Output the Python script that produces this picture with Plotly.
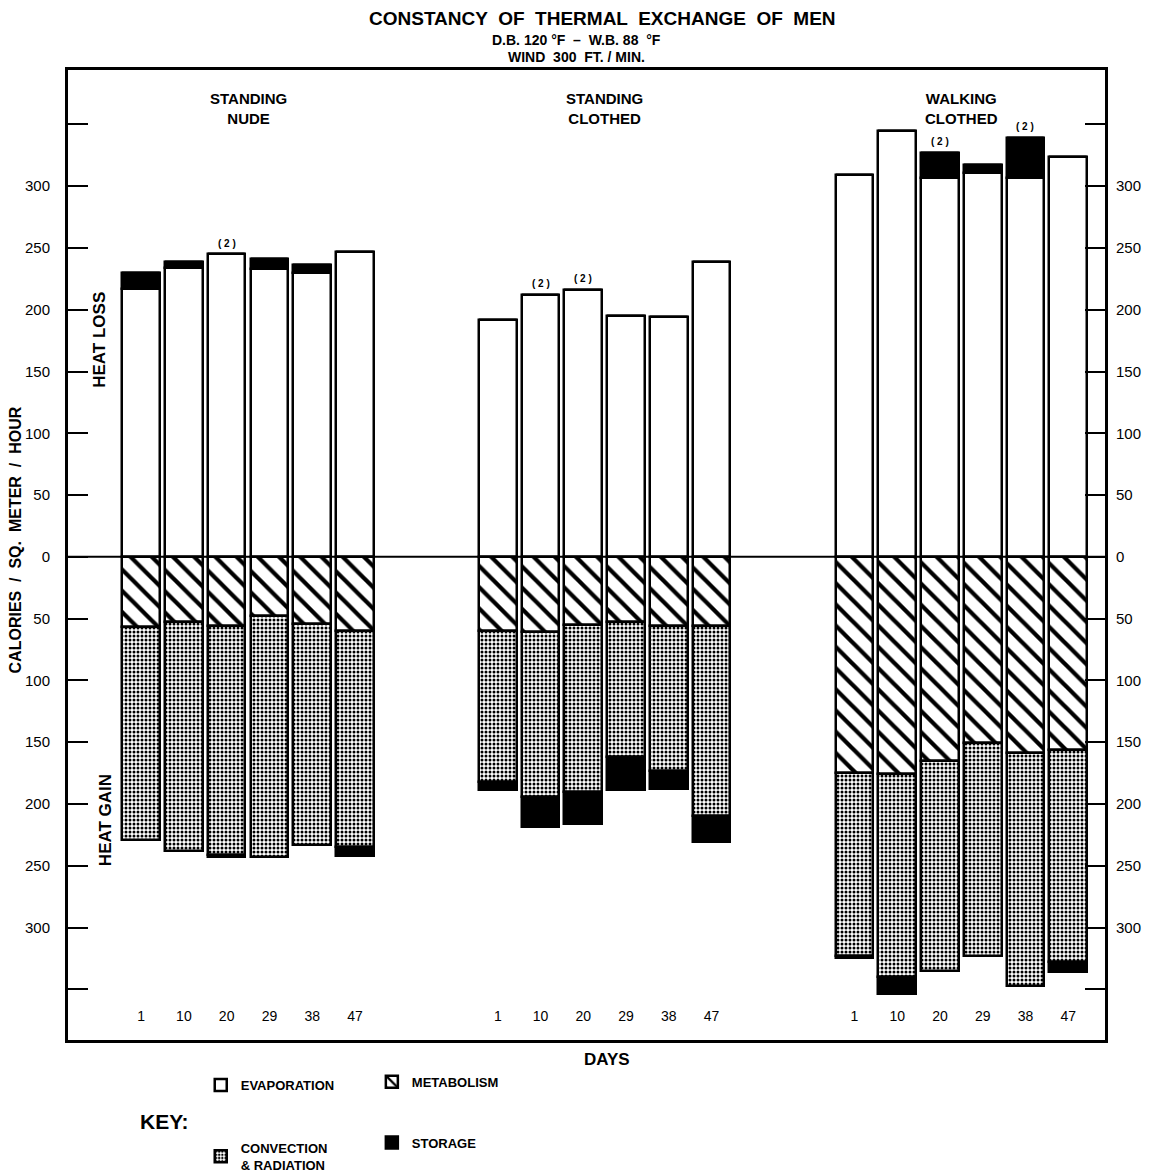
import plotly.graph_objects as go

# ---------------- data ----------------
groups = ["STANDING<br>NUDE", "STANDING<br>CLOTHED", "WALKING<br>CLOTHED"]
days = [1, 10, 20, 29, 38, 47]

# heat loss side (positive)
evaporation = [217, 234, 245, 233, 230, 247,
               192, 212, 216, 195, 194, 239,
               309, 345, 307, 311, 307, 324]
storage_loss = [13, 5, 0, 8, 6, 0,
                0, 0, 0, 0, 0, 0,
                0, 0, 20, 6, 32, 0]
# heat gain side (drawn downward)
metabolism = [57, 53, 56, 48, 54, 60,
              60, 61, 55, 53, 56, 56,
              175, 176, 165, 151, 159, 156]
convection = [172, 185, 185, 195, 179, 175,
              122, 133, 135, 109, 117, 154,
              148, 164, 170, 172, 188, 172]
storage_gain = [0, 0, 2, 0, 0, 7,
                7, 25, 26, 27, 15, 21,
                2, 14, 0, 0, 0, 8]
# bars marked "(2)"
two_tests = [0, 0, 1, 0, 0, 0,
             0, 1, 1, 0, 0, 0,
             0, 0, 1, 0, 1, 0]

y_ticks = [-350, -300, -250, -200, -150, -100, -50, 0, 50, 100, 150, 200, 250, 300, 350]

# ---------------- layout helpers ----------------
GROUP_STEP = 8.34
x = [g * GROUP_STEP + i for g in range(len(groups)) for i in range(len(days))]
x_days = [str(d) for _ in groups for d in days]
group_centers = [g * GROUP_STEP + (len(days) - 1) / 2 for g in range(len(groups))]

FONT = "Liberation Sans"
LINE = dict(color="black", width=2.5)
BW = 0.88

fig = go.Figure()

fig.add_trace(go.Bar(
    x=x, y=evaporation, width=BW, name="<b>EVAPORATION</b>",
    marker=dict(color="white", line=LINE),
    legend="legend", legendgroup="evap", legendrank=1))
fig.add_trace(go.Bar(
    x=x, y=storage_loss, width=BW, name="<b>STORAGE</b>", showlegend=False,
    marker=dict(color="black", line=LINE), legendgroup="stor"))
fig.add_trace(go.Bar(
    x=x, y=[-v for v in metabolism], width=BW, name="<b>METABOLISM</b>",
    marker=dict(color="white", line=LINE,
                pattern=dict(shape="\\", fgcolor="black", bgcolor="white", fgopacity=1,
                             size=15, solidity=0.28)),
    legend="legend2", legendgroup="met", legendrank=1))
fig.add_trace(go.Bar(
    x=x, y=[-v for v in convection], width=BW, name="<b>CONVECTION<br>& RADIATION</b>",
    marker=dict(color="white", line=LINE,
                pattern=dict(shape=".", fgcolor="black", bgcolor="white", fgopacity=1,
                             size=4, solidity=0.45)),
    legend="legend", legendgroup="conv", legendrank=2))
fig.add_trace(go.Bar(
    x=x, y=[-v for v in storage_gain], width=BW, name="<b>STORAGE</b>",
    marker=dict(color="black", line=LINE),
    legend="legend2", legendgroup="stor", legendrank=2))

annotations = []
# "(2)" markers
for xi, ev, sl, t in zip(x, evaporation, storage_loss, two_tests):
    if t:
        annotations.append(dict(x=xi, y=ev + sl, xref="x", yref="y", text="<b>( 2 )</b>",
                                showarrow=False, yshift=11, yanchor="middle",
                                font=dict(family=FONT, size=10, color="black")))
# group headings
for gc, gname in zip(group_centers, groups):
    annotations.append(dict(x=gc, y=0.96, xref="x", yref="paper", text="<b>" + gname + "</b>",
                            showarrow=False, yanchor="middle", xanchor="center",
                            font=dict(family=FONT, size=15, color="black")))

annotations += [
    dict(x=0.515, y=1.0526, xref="paper", yref="paper",
         text="<b>CONSTANCY  OF  THERMAL  EXCHANGE  OF  MEN</b>", showarrow=False,
         xanchor="center", yanchor="middle",
         font=dict(family=FONT, size=19, color="black")),
    dict(x=0.49, y=1.031, xref="paper", yref="paper",
         text="<b>D.B. 120 °F  –  W.B. 88  °F</b>", showarrow=False,
         xanchor="center", yanchor="middle",
         font=dict(family=FONT, size=14, color="black")),
    dict(x=0.49, y=1.0135, xref="paper", yref="paper",
         text="<b>WIND  300  FT. / MIN.</b>", showarrow=False,
         xanchor="center", yanchor="middle",
         font=dict(family=FONT, size=14, color="black")),
    dict(x=0.031, y=0.722, xref="paper", yref="paper", text="<b>HEAT LOSS</b>",
         textangle=-90, showarrow=False, xanchor="center", yanchor="middle",
         font=dict(family=FONT, size=17, color="black")),
    dict(x=0.036, y=0.227, xref="paper", yref="paper", text="<b>HEAT GAIN</b>",
         textangle=-90, showarrow=False, xanchor="center", yanchor="middle",
         font=dict(family=FONT, size=17, color="black")),
    dict(x=0, y=0.515, xref="paper", yref="paper", xshift=-53,
         text="<b>CALORIES  /  SQ.  METER  /  HOUR</b>",
         textangle=-90, showarrow=False, xanchor="center", yanchor="middle",
         font=dict(family=FONT, size=16, color="black")),
    dict(x=0.52, y=-0.0206, xref="paper", yref="paper", text="<b>DAYS</b>",
         showarrow=False, xanchor="center", yanchor="middle",
         font=dict(family=FONT, size=17, color="black")),
    dict(x=0.0935, y=-0.0845, xref="paper", yref="paper", text="<b>KEY:</b>",
         showarrow=False, xanchor="center", yanchor="middle",
         font=dict(family=FONT, size=21, color="black")),
]

tick_text = ["" if abs(v) == 350 else str(abs(v)) for v in y_ticks]
yaxis_common = dict(range=[-391, 394], tickvals=y_ticks, ticktext=tick_text,
                    ticks="inside", ticklen=20, tickwidth=2, tickcolor="black",
                    showgrid=False, zeroline=False,
                    tickprefix="<b>", ticksuffix="</b>",
                    tickfont=dict(family=FONT, size=15, color="black"))

fig.update_layout(
    width=1171, height=1200,
    margin=dict(l=60, r=74, t=62, b=168),
    paper_bgcolor="white", plot_bgcolor="white",
    barmode="relative", bargap=0,
    font=dict(family=FONT, color="black"),
    xaxis=dict(range=[-1.71, 2 * GROUP_STEP + 5 + 0.86],
               tickvals=x, ticktext=x_days, ticks="", ticklabelposition="inside",
               ticklabelstandoff=16,
               tickfont=dict(family=FONT, size=14, color="black"),
               showgrid=False, zeroline=False,
               showline=True, mirror=True, linecolor="black", linewidth=3),
    yaxis=dict(**yaxis_common, showline=True, mirror=True, linecolor="black", linewidth=3,
               ticklabelstandoff=12),
    yaxis2=dict(**yaxis_common, overlaying="y", side="right", matches="y",
                ticklabelstandoff=10),
    annotations=annotations,
    shapes=[dict(type="line", xref="paper", yref="y", x0=0, x1=1, y0=0, y1=0,
                 line=dict(color="black", width=2))],
    legend=dict(x=0.128, y=-0.031, xanchor="left", yanchor="top",
                orientation="v", tracegroupgap=43, traceorder="grouped",
                font=dict(family=FONT, size=13, color="black"),
                bgcolor="rgba(0,0,0,0)"),
    legend2=dict(x=0.293, y=-0.0275, xanchor="left", yanchor="top",
                 orientation="v", tracegroupgap=41, traceorder="grouped",
                 font=dict(family=FONT, size=13, color="black"),
                 bgcolor="rgba(0,0,0,0)"),
)
# invisible trace to anchor the right axis
fig.add_trace(go.Scatter(x=[x[0]], y=[0], yaxis="y2", mode="markers",
                         marker=dict(opacity=0), showlegend=False, hoverinfo="skip"))

fig.write_html("out.html")
